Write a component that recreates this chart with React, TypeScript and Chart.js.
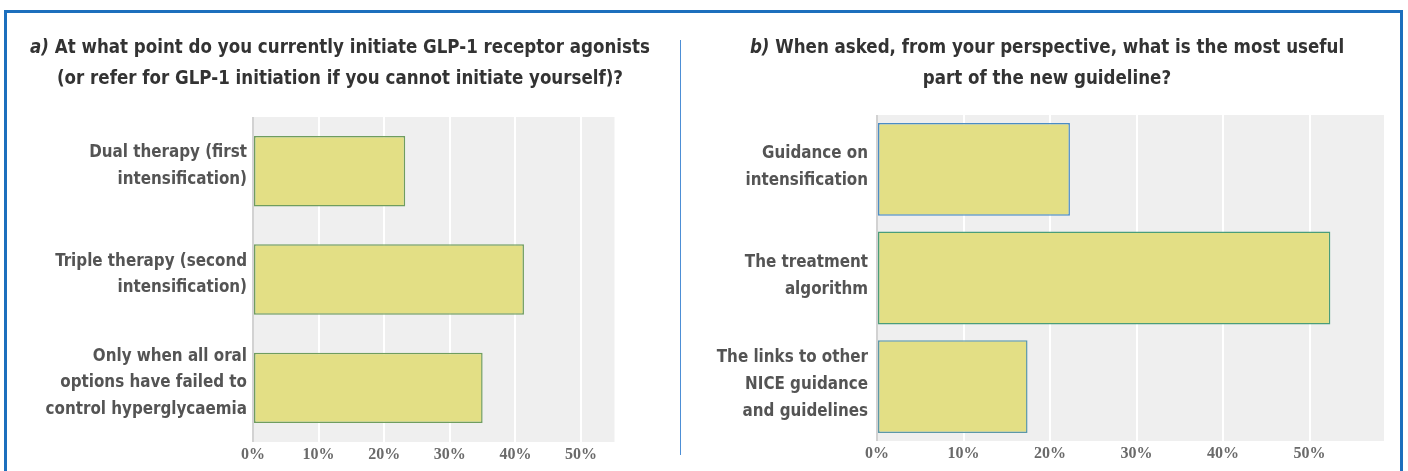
import React, { useEffect, useRef, useMemo } from 'react';
import { Chart, registerables } from 'chart.js';

Chart.register(...registerables);

// ---- data ----
const leftTitleLines = [
  'At what point do you currently initiate GLP-1 receptor agonists',
  '(or refer for GLP-1 initiation if you cannot initiate yourself)?',
];
const rightTitleLines = [
  'When asked, from your perspective, what is the most useful',
  'part of the new guideline?',
];
const leftCategories = [
  ['Dual therapy (first', 'intensification)'],
  ['Triple therapy (second', 'intensification)'],
  ['Only when all oral', 'options have failed to', 'control hyperglycaemia'],
];
const leftValues = [23.2, 41.3, 35.0];
const rightCategories = [
  ['Guidance on', 'intensification'],
  ['The treatment', 'algorithm'],
  ['The links to other', 'NICE guidance', 'and guidelines'],
];
const rightValues = [22.3, 52.4, 17.4];
const tickValues = [0, 10, 20, 30, 40, 50];
const leftAxisMax = 55.1;
const rightAxisMax = 58.6;

// ---- font helpers ----
function fontOk(name: string): boolean {
  const ctx = document.createElement('canvas').getContext('2d')!;
  const s = 'mmmmmmmmmmlli WWW 0123456789 abcdefghij';
  ctx.font = '40px monospace';
  const a = ctx.measureText(s).width;
  ctx.font = `40px "${name}", monospace`;
  const b = ctx.measureText(s).width;
  ctx.font = '40px serif';
  const c = ctx.measureText(s).width;
  ctx.font = `40px "${name}", serif`;
  const d = ctx.measureText(s).width;
  return a !== b || c !== d;
}

function fitSize(family: string, text: string, target: number, maxSize: number): number {
  const ctx = document.createElement('canvas').getContext('2d')!;
  ctx.font = `bold 20px ${family}`;
  const w = ctx.measureText(text).width;
  return Math.min(maxSize, (20 * target) / w);
}

function pickFonts() {
  const cands = ['Liberation Sans Narrow', 'DejaVu Sans Condensed', 'Roboto Condensed', 'Open Sans Condensed'];
  let fam = '';
  for (const c of cands) {
    if (fontOk(c)) { fam = `"${c}"`; break; }
  }
  if (!fam) fam = 'Roboto';
  const family = `${fam}, Roboto, sans-serif`;
  const labelSize = fitSize(family, 'Dual therapy (first', 158, 18.5);
  const titleSize = fitSize(family, 'a) At what point do you currently initiate GLP-1 receptor agonists', 620, 20.5);
  return { family, labelSize, titleSize };
}

type Geom = { yWidth: number; padTop: number; padRight: number; xHeight: number; tickPad: number; barPct: number; labelOffset: number };

function makeChart(
  canvas: HTMLCanvasElement,
  cats: string[][],
  values: number[],
  max: number,
  borderColors: string[],
  g: Geom,
  fonts: { family: string; labelSize: number }
) {
  const plotBg = {
    id: 'plotBg',
    beforeDraw(chart: any) {
      const { ctx, chartArea: a } = chart;
      ctx.save();
      ctx.fillStyle = '#efefef';
      ctx.fillRect(a.left, a.top, a.right - a.left, a.bottom - a.top);
      ctx.restore();
    },
  };
  return new Chart(canvas, {
    type: 'bar',
    data: {
      labels: cats,
      datasets: [
        {
          data: values,
          backgroundColor: '#e3df85',
          borderColor: borderColors,
          borderWidth: 1.5,
          borderSkipped: false,
          barPercentage: g.barPct,
          categoryPercentage: 1,
        },
      ],
    },
    options: {
      indexAxis: 'y',
      animation: false,
      responsive: false,
      maintainAspectRatio: false,
      layout: { padding: { top: g.padTop, right: g.padRight, bottom: 0, left: 0 } },
      plugins: { legend: { display: false }, tooltip: { enabled: false }, title: { display: false } },
      scales: {
        x: {
          min: 0,
          max: max,
          afterBuildTicks: (s: any) => {
            s.ticks = tickValues.map((v) => ({ value: v }));
          },
          afterFit: (s: any) => {
            s.height = g.xHeight;
          },
          ticks: {
            callback: (v: any) => `${v}%`,
            font: { family: '"Liberation Serif", "DejaVu Serif", serif', size: 16, weight: 'bold' },
            color: '#6a6a6a',
            padding: 3,
            maxRotation: 0,
            autoSkip: false,
          },
          grid: {
            color: (c: any) => (c.tick && c.tick.value === 0 ? '#d2d2d2' : '#ffffff'),
            lineWidth: 2,
            drawTicks: false,
          },
          border: { display: false },
        },
        y: {
          afterFit: (s: any) => {
            s.width = g.yWidth;
          },
          ticks: {
            font: { family: fonts.family, size: fonts.labelSize, weight: 'bold', lineHeight: 26.7 / fonts.labelSize },
            color: '#545454',
            padding: g.tickPad,
            labelOffset: g.labelOffset,
            autoSkip: false,
          },
          grid: { display: false, drawTicks: false },
          border: { display: false },
        },
      },
    },
    plugins: [plotBg],
  } as any);
}

export default function App() {
  const leftRef = useRef<HTMLCanvasElement | null>(null);
  const rightRef = useRef<HTMLCanvasElement | null>(null);
  const fonts = useMemo(() => pickFonts(), []);

  useEffect(() => {
    const c1 = makeChart(
      leftRef.current!,
      leftCategories,
      leftValues,
      leftAxisMax,
      ['#6f9d5f', '#6f9d5f', '#6f9d5f'],
      { yWidth: 243, padTop: 60, padRight: 35.5, xHeight: 50, tickPad: 6, barPct: 0.65, labelOffset: -5 },
      fonts
    );
    const c2 = makeChart(
      rightRef.current!,
      rightCategories,
      rightValues,
      rightAxisMax,
      ['#4a8cc6', '#4a9d7a', '#5c98a8'],
      { yWidth: 187, padTop: 60, padRight: 21, xHeight: 50, tickPad: 9, barPct: 0.855, labelOffset: -2 },
      fonts
    );
    return () => {
      c1.destroy();
      c2.destroy();
    };
  }, [fonts]);

  const titleStyle = (left: number, width: number): React.CSSProperties => ({
    position: 'absolute',
    left,
    top: 31,
    width,
    textAlign: 'center',
    fontFamily: fonts.family,
    fontWeight: 'bold',
    fontSize: fonts.titleSize,
    lineHeight: '31px',
    color: '#333333',
    whiteSpace: 'nowrap',
    zIndex: 2,
  });

  return (
    <div
      style={{
        position: 'absolute',
        left: 0,
        top: 0,
        width: 1408,
        height: 471,
        overflow: 'hidden',
        background: '#ffffff',
      }}
    >
      <div
        style={{
          position: 'absolute',
          left: 4,
          top: 10,
          width: 1393,
          height: 480,
          border: '3px solid #1c6fbd',
          boxSizing: 'content-box',
        }}
      />
      <div style={{ position: 'absolute', left: 680, top: 40, width: 1, height: 415, background: '#4d8fd6' }} />
      <div style={titleStyle(10, 660)}>
        <div>
          <i>a)</i> {leftTitleLines[0]}
        </div>
        <div>{leftTitleLines[1]}</div>
      </div>
      <div style={titleStyle(697, 700)}>
        <div>
          <i>b)</i> {rightTitleLines[0]}
        </div>
        <div>{rightTitleLines[1]}</div>
      </div>
      <canvas
        ref={leftRef}
        width={640}
        height={435}
        style={{ position: 'absolute', left: 10, top: 57, width: 640, height: 435, zIndex: 1 }}
      />
      <canvas
        ref={rightRef}
        width={715}
        height={436}
        style={{ position: 'absolute', left: 690, top: 55, width: 715, height: 436, zIndex: 1 }}
      />
    </div>
  );
}
